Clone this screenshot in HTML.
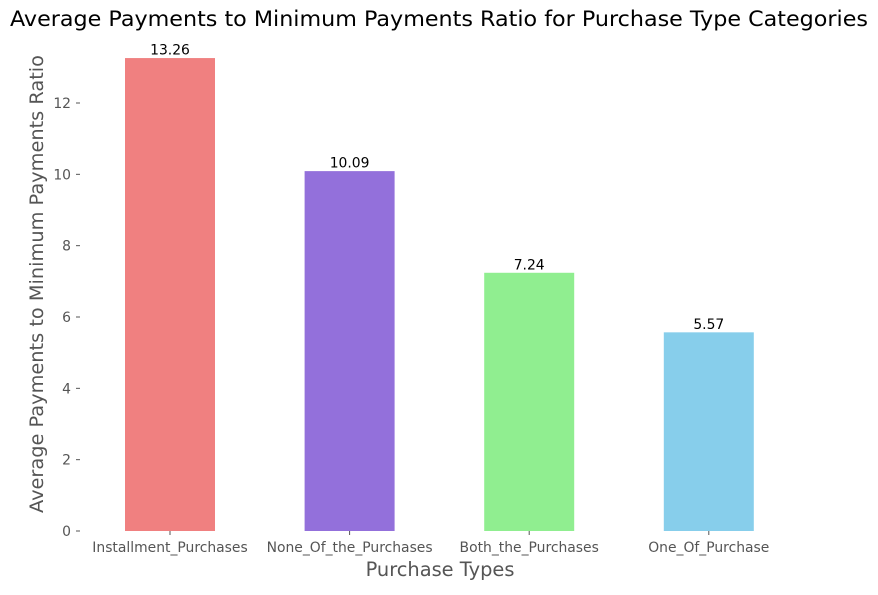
<!DOCTYPE html>
<html><head><meta charset="utf-8"><style>
body{margin:0;background:#fff;}
svg text{font-family:"DejaVu Sans","Liberation Sans",sans-serif;}
</style></head><body>
<svg id="chart" width="878" height="590">
<text x="439" y="26" text-anchor="middle" font-size="21" fill="#000" textLength="858" lengthAdjust="spacingAndGlyphs">Average Payments to Minimum Payments Ratio for Purchase Type Categories</text>
<text x="0" y="0" transform="translate(43,284) rotate(-90)" text-anchor="middle" font-size="19" fill="#555" textLength="458" lengthAdjust="spacingAndGlyphs">Average Payments to Minimum Payments Ratio</text>
<text x="440" y="576" text-anchor="middle" font-size="19.4" fill="#555">Purchase Types</text>
<g id="plot"></g>
</svg>
<script>
const categories=["Installment_Purchases","None_Of_the_Purchases","Both_the_Purchases","One_Of_Purchase"];
const values=[13.26,10.09,7.24,5.57];
const labels=["13.26","10.09","7.24","5.57"];
const yTicks=[0,2,4,6,8,10,12];
const colors=["#F08080","#9370DB","#90EE90","#87CEEB"];
const NS="http://www.w3.org/2000/svg";
const y0=531,yScale=428/12;
const yPos=v=>y0-v*yScale;
const xPos=i=>170+i*179.6;
const g=document.getElementById('plot');
function mk(t,a){const e=document.createElementNS(NS,t);for(const k in a)e.setAttribute(k,a[k]);g.appendChild(e);return e;}
yTicks.forEach(t=>{
  const l=mk('line',{x1:76,x2:80,y1:yPos(t),y2:yPos(t),stroke:'#555'});
  
  
  const tx=mk('text',{x:71,y:yPos(t)+5,'text-anchor':'end','font-size':13.9,fill:'#555'});
  tx.textContent=t;
  
  
});
categories.forEach((c,i)=>{
  const cx=xPos(i);
  const r=mk('rect',{x:cx-45,y:yPos(values[i]),width:90,height:y0-yPos(values[i]),fill:colors[i]});
  
  
  const v=mk('text',{x:cx,y:yPos(values[i])-3.5,'text-anchor':'middle','font-size':13.9,fill:'#000'});
  v.textContent=labels[i];
  
  
  const tl=mk('line',{x1:cx,x2:cx,y1:y0,y2:y0+4,stroke:'#555'});
  
  
  const xl=mk('text',{x:cx,y:552,'text-anchor':'middle','font-size':13.9,fill:'#555'});
  xl.textContent=c;
  
  
});
</script>
</body></html>
